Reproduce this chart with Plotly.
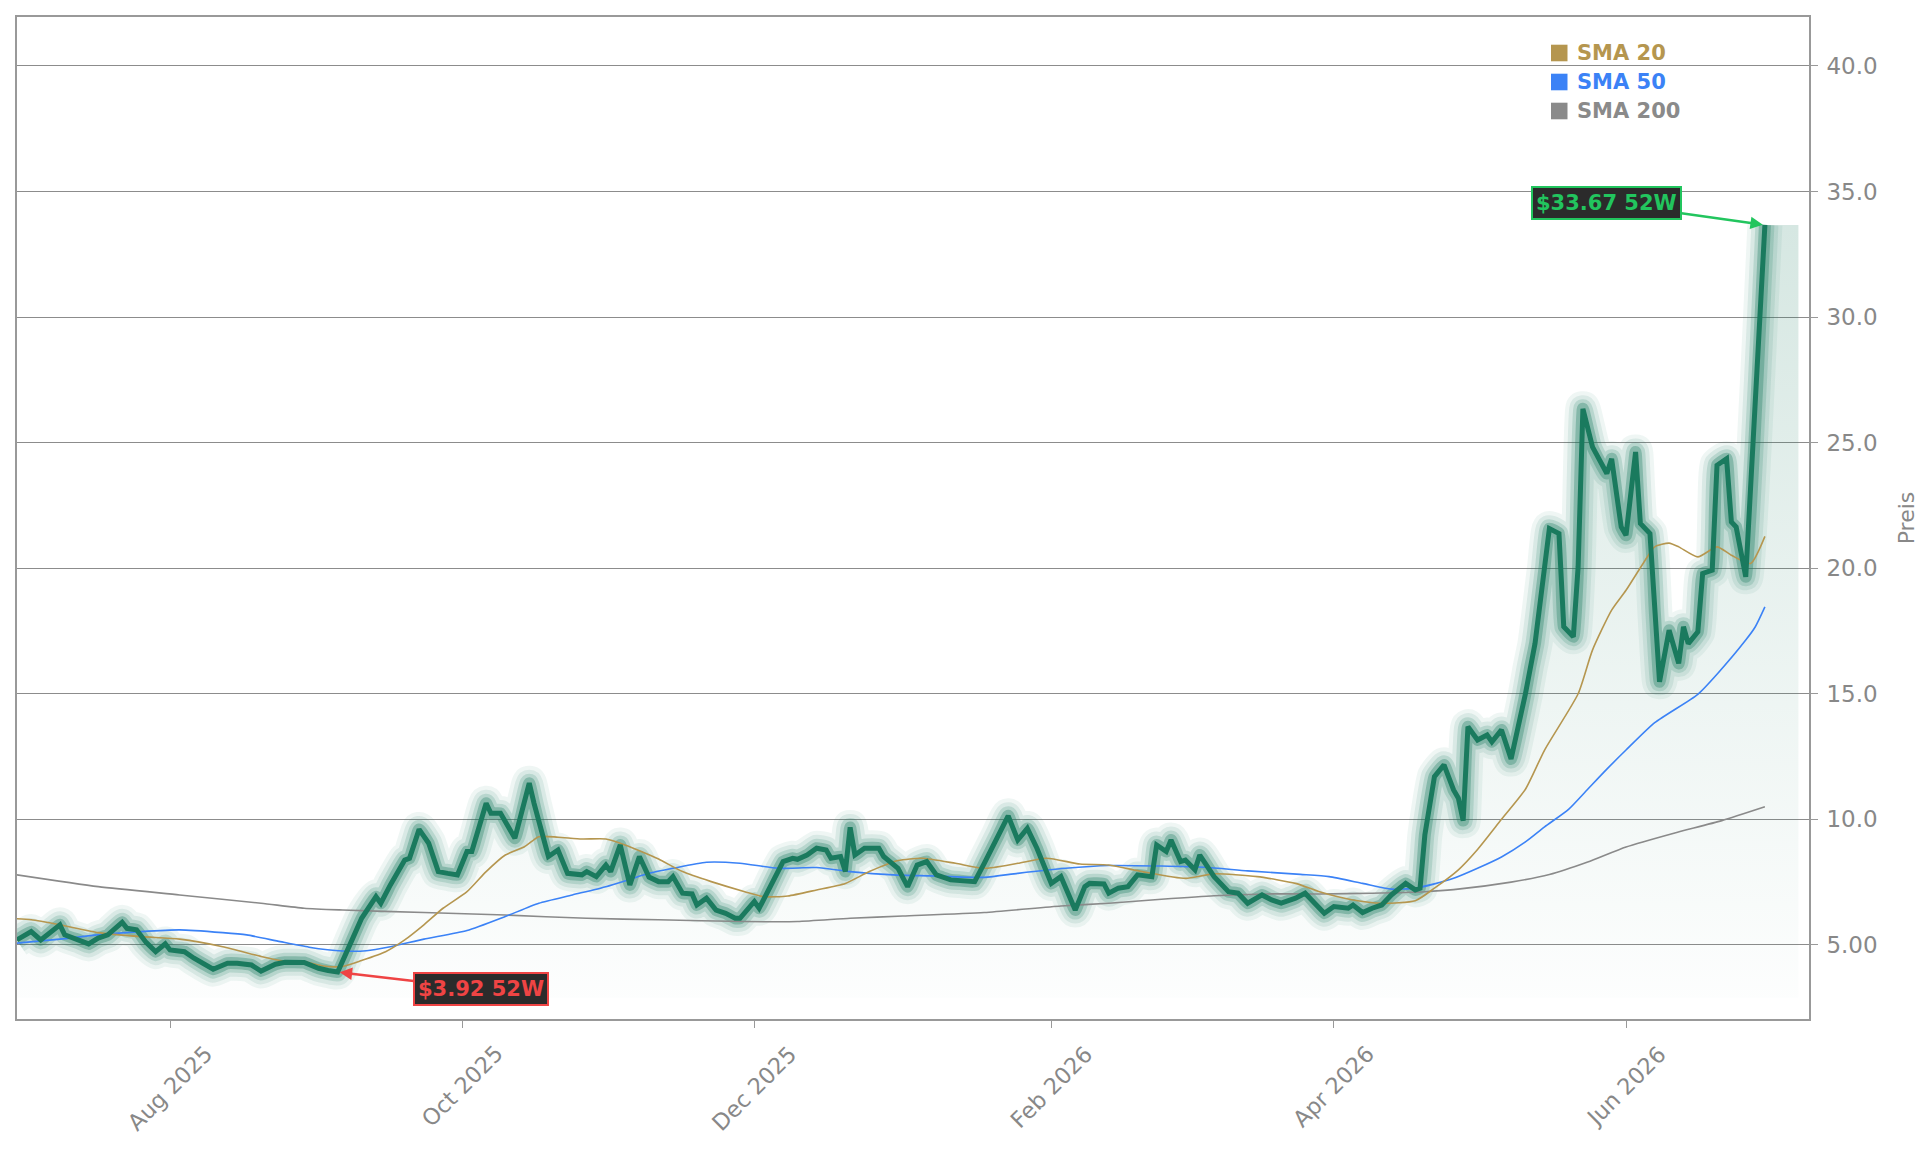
import plotly.graph_objects as go

# ---------------- data ----------------
price_dates = [
    "2025-06-30", "2025-07-03", "2025-07-05", "2025-07-09", "2025-07-10", "2025-07-13", "2025-07-15",
    "2025-07-17", "2025-07-19", "2025-07-22", "2025-07-23", "2025-07-25", "2025-07-27", "2025-07-29",
    "2025-07-31", "2025-08-01", "2025-08-04", "2025-08-06", "2025-08-08", "2025-08-10", "2025-08-13",
    "2025-08-15", "2025-08-18", "2025-08-20", "2025-08-23", "2025-08-25", "2025-08-29", "2025-09-01",
    "2025-09-03", "2025-09-05", "2025-09-08", "2025-09-10", "2025-09-13", "2025-09-14", "2025-09-16",
    "2025-09-19", "2025-09-20", "2025-09-22", "2025-09-24", "2025-09-26", "2025-09-28", "2025-09-30",
    "2025-10-02", "2025-10-03", "2025-10-06", "2025-10-07", "2025-10-09", "2025-10-12", "2025-10-15",
    "2025-10-16", "2025-10-19", "2025-10-21", "2025-10-23", "2025-10-26", "2025-10-27", "2025-10-29",
    "2025-10-31", "2025-11-01", "2025-11-03", "2025-11-05", "2025-11-07", "2025-11-09", "2025-11-11",
    "2025-11-13", "2025-11-14", "2025-11-16", "2025-11-18", "2025-11-19", "2025-11-21", "2025-11-23",
    "2025-11-25", "2025-11-27", "2025-11-28", "2025-12-01", "2025-12-02", "2025-12-04", "2025-12-07",
    "2025-12-09", "2025-12-10", "2025-12-12", "2025-12-14", "2025-12-16", "2025-12-17", "2025-12-19",
    "2025-12-20", "2025-12-21", "2025-12-22", "2025-12-24", "2025-12-27", "2025-12-28", "2025-12-31",
    "2026-01-02", "2026-01-04", "2026-01-06", "2026-01-08", "2026-01-11", "2026-01-13", "2026-01-16",
    "2026-01-18", "2026-01-21", "2026-01-23", "2026-01-25", "2026-01-27", "2026-01-29", "2026-02-01",
    "2026-02-03", "2026-02-06", "2026-02-08", "2026-02-09", "2026-02-12", "2026-02-13", "2026-02-15",
    "2026-02-17", "2026-02-19", "2026-02-22", "2026-02-23", "2026-02-25", "2026-02-26", "2026-02-28",
    "2026-03-01", "2026-03-03", "2026-03-04", "2026-03-07", "2026-03-10", "2026-03-12", "2026-03-14",
    "2026-03-17", "2026-03-19", "2026-03-21", "2026-03-24", "2026-03-26", "2026-03-28", "2026-03-30",
    "2026-04-01", "2026-04-04", "2026-04-05", "2026-04-07", "2026-04-09", "2026-04-11", "2026-04-13",
    "2026-04-16", "2026-04-18", "2026-04-19", "2026-04-20", "2026-04-22", "2026-04-24", "2026-04-26",
    "2026-04-27", "2026-04-28", "2026-04-29", "2026-05-01", "2026-05-03", "2026-05-04", "2026-05-06",
    "2026-05-07", "2026-05-08", "2026-05-11", "2026-05-12", "2026-05-13", "2026-05-15", "2026-05-16",
    "2026-05-18", "2026-05-19", "2026-05-21", "2026-05-22", "2026-05-23", "2026-05-25", "2026-05-28",
    "2026-05-29", "2026-05-31", "2026-06-01", "2026-06-03", "2026-06-04", "2026-06-06", "2026-06-07",
    "2026-06-08", "2026-06-10", "2026-06-12", "2026-06-13", "2026-06-14", "2026-06-16", "2026-06-17",
    "2026-06-19", "2026-06-20", "2026-06-22", "2026-06-23", "2026-06-24", "2026-06-26", "2026-06-30",
]
price_values = [
    5.20, 5.53, 5.20, 5.80, 5.40, 5.20, 5.04,
    5.27, 5.40, 5.90, 5.66, 5.60, 5.10, 4.73,
    5.04, 4.80, 4.73, 4.47, 4.24, 4.03, 4.27,
    4.27, 4.20, 3.96, 4.23, 4.31, 4.30, 4.07,
    3.98, 3.92, 5.20, 6.06, 6.92, 6.66, 7.39,
    8.38, 8.45, 9.60, 9.05, 7.92, 7.85, 7.79,
    8.72, 8.72, 10.64, 10.24, 10.24, 9.25, 11.44,
    10.64, 8.52, 8.78, 7.85, 7.79, 7.92, 7.72,
    8.18, 7.92, 8.98, 7.39, 8.52, 7.70, 7.52,
    7.52, 7.72, 7.06, 7.03, 6.59, 6.86, 6.39,
    6.26, 6.06, 6.06, 6.73, 6.46, 7.19, 8.32,
    8.45, 8.41, 8.58, 8.85, 8.78, 8.45, 8.52,
    7.92, 9.68, 8.58, 8.85, 8.85, 8.52, 8.05,
    7.32, 8.18, 8.32, 7.79, 7.59, 7.56, 7.52,
    8.25, 9.38, 10.14, 9.18, 9.64, 8.85, 7.45,
    7.72, 6.39, 7.32, 7.45, 7.43, 7.06, 7.26,
    7.32, 7.79, 7.72, 8.98, 8.72, 9.18, 8.32,
    8.38, 7.99, 8.58, 7.72, 7.12, 7.06, 6.66,
    6.99, 6.79, 6.66, 6.86, 7.06, 6.66, 6.26,
    6.53, 6.46, 6.59, 6.29, 6.46, 6.59, 6.99,
    7.45, 7.19, 7.26, 9.38, 11.70, 12.17, 11.17,
    10.84, 9.95, 13.69, 13.16, 13.36, 13.09, 13.56,
    13.02, 12.40, 15.00, 16.07, 17.00, 20.05, 21.58,
    21.38, 17.67, 17.27, 20.05, 26.35, 24.83, 23.77,
    24.36, 21.64, 21.31, 24.63, 21.78, 21.38, 18.33,
    15.48, 17.53, 16.21, 17.67, 17.00, 17.47, 19.79,
    19.92, 24.10, 24.36, 21.84, 21.64, 19.66, 33.67,
]

sma20_dates = [
    "2025-06-30", "2025-07-03", "2025-07-09", "2025-07-17", "2025-07-26", "2025-08-03", "2025-08-12",
    "2025-08-20", "2025-08-24", "2025-08-29", "2025-09-02", "2025-09-06", "2025-09-10", "2025-09-15",
    "2025-09-19", "2025-09-23", "2025-09-27", "2025-10-02", "2025-10-06", "2025-10-10", "2025-10-14",
    "2025-10-17", "2025-10-21", "2025-10-26", "2025-10-31", "2025-11-03", "2025-11-07", "2025-11-11",
    "2025-11-16", "2025-11-22", "2025-11-29", "2025-12-03", "2025-12-08", "2025-12-14", "2025-12-20",
    "2025-12-25", "2025-12-31", "2026-01-05", "2026-01-12", "2026-01-18", "2026-01-25", "2026-01-31",
    "2026-02-07", "2026-02-13", "2026-02-20", "2026-03-01", "2026-03-07", "2026-03-16", "2026-03-24",
    "2026-03-29", "2026-04-05", "2026-04-11", "2026-04-18", "2026-04-22", "2026-04-27", "2026-05-01",
    "2026-05-06", "2026-05-11", "2026-05-15", "2026-05-22", "2026-05-25", "2026-05-29", "2026-06-01",
    "2026-06-05", "2026-06-07", "2026-06-10", "2026-06-12", "2026-06-16", "2026-06-20", "2026-06-23",
    "2026-06-27", "2026-06-30",
]
sma20_values = [
    6.04, 6.00, 5.80, 5.49, 5.33, 5.23, 4.93,
    4.54, 4.38, 4.34, 4.16, 4.14, 4.38, 4.73,
    5.20, 5.80, 6.46, 7.12, 7.92, 8.58, 8.91,
    9.31, 9.29, 9.22, 9.22, 9.05, 8.75, 8.42,
    7.92, 7.52, 7.12, 6.92, 6.95, 7.19, 7.45,
    7.92, 8.36, 8.45, 8.25, 8.05, 8.25, 8.45,
    8.22, 8.18, 7.92, 7.65, 7.83, 7.72, 7.45,
    7.12, 6.79, 6.66, 6.76, 7.26, 7.99, 8.80,
    10.00, 11.20, 12.76, 15.00, 16.74, 18.33, 19.12,
    20.32, 20.85, 21.00, 20.85, 20.45, 20.85, 20.52,
    20.19, 21.27,
]

sma50_dates = [
    "2025-06-30", "2025-07-09", "2025-07-17", "2025-07-26", "2025-08-03", "2025-08-12", "2025-08-17",
    "2025-08-24", "2025-08-30", "2025-09-06", "2025-09-11", "2025-09-16", "2025-09-23", "2025-10-02",
    "2025-10-10", "2025-10-17", "2025-10-24", "2025-10-31", "2025-11-05", "2025-11-09", "2025-11-14",
    "2025-11-21", "2025-11-28", "2025-12-06", "2025-12-14", "2025-12-21", "2025-12-30", "2026-01-07",
    "2026-01-18", "2026-01-25", "2026-02-04", "2026-02-13", "2026-02-24", "2026-03-05", "2026-03-14",
    "2026-03-25", "2026-03-31", "2026-04-07", "2026-04-13", "2026-04-18", "2026-04-22", "2026-04-26",
    "2026-05-01", "2026-05-06", "2026-05-11", "2026-05-15", "2026-05-20", "2026-05-24", "2026-05-28",
    "2026-06-01", "2026-06-07", "2026-06-16", "2026-06-20", "2026-06-26", "2026-06-28", "2026-06-30",
]
sma50_values = [
    5.07, 5.23, 5.40, 5.53, 5.60, 5.49, 5.40,
    5.13, 4.91, 4.76, 4.77, 4.93, 5.23, 5.57,
    6.13, 6.66, 6.99, 7.32, 7.61, 7.85, 8.05,
    8.29, 8.25, 8.05, 8.08, 7.92, 7.79, 7.75,
    7.69, 7.85, 8.05, 8.16, 8.14, 8.09, 7.95,
    7.81, 7.72, 7.45, 7.22, 7.26, 7.43, 7.65,
    8.05, 8.50, 9.10, 9.70, 10.40, 11.20, 12.00,
    12.76, 13.85, 14.98, 15.78, 17.14, 17.67, 18.46,
]

sma200_dates = [
    "2025-06-30", "2025-07-17", "2025-08-03", "2025-08-20", "2025-08-29", "2025-09-06", "2025-09-23",
    "2025-10-10", "2025-10-27", "2025-11-11", "2025-11-29", "2025-12-10", "2025-12-21", "2026-01-01",
    "2026-01-18", "2026-02-03", "2026-02-13", "2026-02-24", "2026-03-07", "2026-03-18", "2026-03-29",
    "2026-04-09", "2026-04-20", "2026-04-26", "2026-05-08", "2026-05-16", "2026-05-24", "2026-06-01",
    "2026-06-11", "2026-06-21", "2026-06-30",
]
sma200_values = [
    7.79, 7.32, 6.99, 6.66, 6.46, 6.39, 6.29,
    6.19, 6.06, 6.00, 5.93, 5.93, 6.06, 6.15,
    6.29, 6.55, 6.66, 6.82, 6.96, 7.03, 7.03,
    7.06, 7.12, 7.20, 7.50, 7.80, 8.30, 8.90,
    9.45, 9.95, 10.50,
]

high_label = "$33.67 52W"
high_date, high_value = "2026-06-30", 33.67
low_label = "$3.92 52W"
low_date, low_value = "2025-09-05", 3.92

x_tick_dates = ["2025-08-01", "2025-10-01", "2025-12-01", "2026-02-01", "2026-04-01", "2026-06-01"]
x_tick_labels = ["Aug 2025", "Oct 2025", "Dec 2025", "Feb 2026", "Apr 2026", "Jun 2026"]
y_tick_vals = [5, 10, 15, 20, 25, 30, 35, 40]
y_tick_text = ["5.00", "10.0", "15.0", "20.0", "25.0", "30.0", "35.0", "40.0"]

legend_names = ["SMA 20", "SMA 50", "SMA 200"]

# ---------------- style ----------------
FONT = "DejaVu Sans"
GREEN = "rgb(26,122,94)"
C_SMA20 = "#b5964f"
C_SMA50 = "#3b82f6"
C_SMA200 = "#8a8a8a"
AXIS_GRAY = "#999999"
TEXT_GRAY = "#888888"
FILL_BASE = 2.9
FILL_EXTEND = "2026-07-07"

W, H = 1929, 1151
ML, MR, MT, MB = 17, 120, 17, 132
PW, PH = W - ML - MR, H - MT - MB

fig = go.Figure()

# gradient fill under the price line
fig.add_trace(go.Scatter(
    x=[price_dates[0]] + price_dates + [FILL_EXTEND, FILL_EXTEND],
    y=[FILL_BASE] + price_values + [price_values[-1], FILL_BASE],
    mode="lines", line=dict(width=0), fill="toself",
    fillgradient=dict(type="vertical", start=FILL_BASE, stop=price_values[-1],
                      colorscale=[[0, "rgba(26,122,94,0.01)"], [1, "rgba(26,122,94,0.18)"]]),
    hoverinfo="skip", showlegend=False,
))

# glow layers (smoothed so the wide strokes have rounded joins)
for w, a in [(35, 0.07), (27, 0.10), (19, 0.17), (12, 0.32)]:
    fig.add_trace(go.Scatter(
        x=price_dates, y=price_values, mode="lines",
        line=dict(color=f"rgba(26,122,94,{a})", width=w, shape="spline", smoothing=0.35),
        hoverinfo="skip", showlegend=False,
    ))

# SMA lines
for xs, ys, c in [(sma200_dates, sma200_values, C_SMA200),
                  (sma50_dates, sma50_values, C_SMA50),
                  (sma20_dates, sma20_values, C_SMA20)]:
    fig.add_trace(go.Scatter(x=xs, y=ys, mode="lines",
                             line=dict(color=c, width=1.6, shape="spline", smoothing=0.6),
                             hoverinfo="skip", showlegend=False))

# main price line
fig.add_trace(go.Scatter(x=price_dates, y=price_values, mode="lines",
                         line=dict(color=GREEN, width=5), showlegend=False))

annotations = []
# 52W high / low
annotations.append(dict(
    x=high_date, y=high_value, xref="x", yref="y", text=f"<b>{high_label}</b>",
    showarrow=True, ax=-158, ay=-22, arrowhead=2, arrowsize=1, arrowwidth=2.5,
    arrowcolor="#22c55e", font=dict(family=FONT, size=21, color="#22c55e"),
    bgcolor="#2b2b2b", bordercolor="#22c55e", borderwidth=2, borderpad=3, standoff=2,
))
annotations.append(dict(
    x=low_date, y=low_value, xref="x", yref="y", text=f"<b>{low_label}</b>",
    showarrow=True, ax=143, ay=17, arrowhead=2, arrowsize=1, arrowwidth=2.5,
    arrowcolor="#ef4444", font=dict(family=FONT, size=21, color="#ef4444"),
    bgcolor="#2b2b2b", bordercolor="#ef4444", borderwidth=2, borderpad=3, standoff=2,
))

# x tick labels (rotated, centred under tick like the original)
for d, t in zip(x_tick_dates, x_tick_labels):
    annotations.append(dict(
        x=d, y=1 - (1038 - MT) / PH, xref="x", yref="paper", text=t, showarrow=False,
        textangle=-45, xanchor="center", yanchor="top",
        font=dict(family=FONT, size=22.5, color=TEXT_GRAY),
    ))

# legend
shapes = []
legend_colors = [C_SMA20, C_SMA50, C_SMA200]
row_centers = [53, 82, 111]
for name, c, yc in zip(legend_names, legend_colors, row_centers):
    shapes.append(dict(type="rect", xref="paper", yref="paper",
                       x0=(1551 - ML) / PW, x1=(1567.5 - ML) / PW,
                       y0=1 - (yc + 8.3 - MT) / PH, y1=1 - (yc - 8.3 - MT) / PH,
                       fillcolor=c, line=dict(width=0)))
    annotations.append(dict(x=(1575 - ML) / PW, y=1 - (yc - MT) / PH, xref="paper", yref="paper",
                            text=f"<b>{name}</b>", showarrow=False, xanchor="left", yanchor="middle",
                            font=dict(family=FONT, size=21, color=c)))

fig.update_layout(
    width=W, height=H,
    margin=dict(l=ML, r=MR, t=MT, b=MB, autoexpand=False),
    paper_bgcolor="white", plot_bgcolor="white",
    font=dict(family=FONT, color=TEXT_GRAY),
    showlegend=False,
    annotations=annotations, shapes=shapes,
    xaxis=dict(type="date", range=["2025-06-30 01:00", "2026-07-09 05:00"],
               showgrid=False, zeroline=False, showline=True, linecolor=AXIS_GRAY, linewidth=1.6,
               mirror=True, ticks="outside", ticklen=7, tickwidth=1.2, tickcolor=AXIS_GRAY,
               tickvals=x_tick_dates, showticklabels=False),
    yaxis=dict(side="right", range=[2.05, 41.95], tickvals=y_tick_vals, ticktext=y_tick_text,
               showgrid=True, gridcolor="#8c8c8c", gridwidth=1.2, zeroline=False,
               showline=True, linecolor=AXIS_GRAY, linewidth=1.6, mirror=True,
               ticks="outside", ticklen=7, tickwidth=1.2, tickcolor=AXIS_GRAY,
               ticklabelstandoff=4,
               tickfont=dict(family=FONT, size=23, color=TEXT_GRAY),
               title=dict(text="Preis", font=dict(family=FONT, size=22, color=TEXT_GRAY), standoff=22)),
)

fig.write_html("out.html")
